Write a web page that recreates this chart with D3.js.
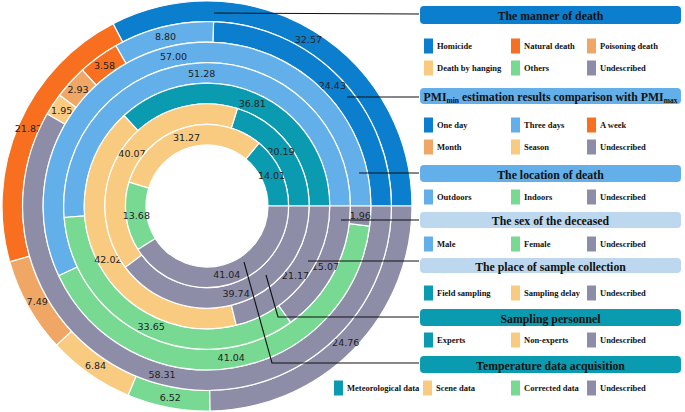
<!DOCTYPE html>
<html><head><meta charset="utf-8">
<script src="https://cdn.jsdelivr.net/npm/d3@7"></script>
<style>html,body{margin:0;padding:0;background:#fff;}svg{display:block;}</style>
</head><body>
<svg id="chart" width="685" height="412"></svg>
<script>
// ---- data ----
const mannerLabels = ["Homicide","Natural death","Poisoning death","Death by hanging","Others","Undescribed"];
const mannerValues = [32.57,21.82,7.49,6.84,6.52,24.76];
const pmiLabels = ["One day","Three days","A week","Month","Season","Undescribed"];
const pmiValues = [24.43,8.80,3.58,2.93,1.95,58.31];
const locationLabels = ["Outdoors","Indoors","Undescribed"];
const locationValues = [57.00,41.04,1.96];
const sexLabels = ["Male","Female","Undescribed"];
const sexValues = [51.28,33.65,15.07];
const placeLabels = ["Field sampling","Sampling delay","Undescribed"];
const placeValues = [36.81,42.02,21.17];
const personnelLabels = ["Experts","Non-experts","Undescribed"];
const personnelValues = [20.19,40.07,39.74];
const tempLabels = ["Meteorological data","Scene data","Corrected data","Undescribed"];
const tempValues = [14.01,31.27,13.68,41.04];
const ringTitles = ["The manner of death","PMI estimation results comparison with PMI","The location of death","The sex of the deceased","The place of sample collection","Sampling personnel","Temperature data acquisition"];

// ---- styles ----
const C = {dark:"#0b7ecd", light:"#63afe9", orange:"#f8701f", lorange:"#f0a766", yellow:"#f9cb80", green:"#77d992", grey:"#8e8da8", teal:"#0a9bb0", pale:"#bdd7ee"};
const ringColors = [
  [C.dark,C.orange,C.lorange,C.yellow,C.green,C.grey],
  [C.dark,C.light,C.orange,C.lorange,C.yellow,C.grey],
  [C.light,C.green,C.grey],
  [C.light,C.green,C.grey],
  [C.teal,C.yellow,C.grey],
  [C.teal,C.yellow,C.grey],
  [C.teal,C.yellow,C.green,C.grey]
];
const headerColors = [C.dark,C.light,C.light,C.pale,C.pale,C.teal,C.teal];
const rings = [
  {labels:mannerLabels, values:mannerValues},
  {labels:pmiLabels, values:pmiValues},
  {labels:locationLabels, values:locationValues},
  {labels:sexLabels, values:sexValues},
  {labels:placeLabels, values:placeValues},
  {labels:personnelLabels, values:personnelValues},
  {labels:tempLabels, values:tempValues}
];

const svg = d3.select("#chart");
const cx = 207, cy = 206, R = 205, r0 = 61;
const ringW = (R - r0) / 7;
const g = svg.append("g").attr("transform", `translate(${cx},${cy})`);

const pie = d3.pie().sort(null).startAngle(Math.PI/2).endAngle(Math.PI/2 - 2*Math.PI);

rings.forEach((ring, i) => {
  const outer = R - i*ringW, inner = outer - ringW;
  const arc = d3.arc().innerRadius(inner).outerRadius(outer);
  const labelArc = d3.arc().innerRadius((inner+outer)/2).outerRadius((inner+outer)/2);
  const arcs = pie(ring.values);
  const rg = g.append("g");
  rg.selectAll("path").data(arcs).enter().append("path")
    .attr("d", arc)
    .attr("fill", (d,j) => ringColors[i][j])
    .attr("stroke", "#fff").attr("stroke-width", 1.2);
  rg.selectAll("text").data(arcs).enter().append("text")
    .attr("transform", d => `translate(${labelArc.centroid(d)})`)
    .attr("text-anchor","middle").attr("dominant-baseline","central")
    .attr("font-family","DejaVu Sans").attr("font-size","9.5px").attr("fill","#222")
    .text(d => d.data.toFixed(2));
});

// ---- leader lines ----
const leaders = [
  [[214,13],[419,14]],
  [[347,97],[419,97]],
  [[359,173],[419,173]],
  [[341,220],[419,220]],
  [[308,261],[419,261]],
  [[266,275],[278,317],[419,317]],
  [[244,262],[272,363],[419,363]]
];
const line = d3.line();
leaders.forEach(pts => {
  svg.append("path").attr("d", line(pts)).attr("fill","none").attr("stroke","#111").attr("stroke-width",1.1);
});

// ---- legend ----
const headerY = [[6,24],[88,104],[165,182],[212,228],[258,273],[309,326],[356,373]];
const itemRowsY = [[46,68],[125,147],[197],[244],[293],[340],[388]];
const colX = [424,511,587];
const tempColX = [334,423,511,587];
const bx0 = 420, bx1 = 681;
const serif = "'Liberation Serif', 'Times New Roman', serif";

rings.forEach((ring, i) => {
  const [y0,y1] = headerY[i];
  svg.append("rect").attr("x",bx0).attr("y",y0).attr("width",bx1-bx0).attr("height",y1-y0)
    .attr("rx",4).attr("fill",headerColors[i]);
  const t = svg.append("text").attr("x",(bx0+bx1)/2).attr("y",(y0+y1)/2+1)
    .attr("text-anchor","middle").attr("dominant-baseline","central")
    .attr("font-family",serif).attr("font-weight","bold").attr("font-size","11.8px").attr("fill","#111");
  if (i === 1) {
    t.attr("font-size","11.8px");
    t.append("tspan").text("PMI");
    t.append("tspan").attr("font-size","7.5px").attr("dy",3).text("min");
    t.append("tspan").attr("dy",-3).text(" estimation results comparison with PMI");
    t.append("tspan").attr("font-size","7.5px").attr("dy",3).text("max");
  } else {
    t.text(ringTitles[i]);
  }
  // items
  ring.labels.forEach((lab, j) => {
    let x, y;
    if (i === 6) { x = tempColX[j]; y = itemRowsY[i][0]; }
    else { x = colX[j % 3]; y = itemRowsY[i][Math.floor(j/3)]; }
    svg.append("rect").attr("x",x).attr("y",y-7.5).attr("width",9).attr("height",15).attr("fill",ringColors[i][j]);
    svg.append("text").attr("x",x+13).attr("y",y).attr("dominant-baseline","central")
      .attr("font-family",serif).attr("font-weight","bold").attr("font-size","8.5px").attr("fill","#111")
      .text(lab);
  });
});
</script>
</body></html>
